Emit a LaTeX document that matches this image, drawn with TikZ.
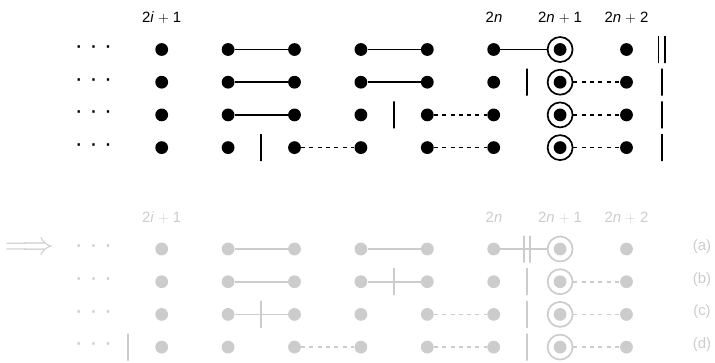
\documentclass[tikz,border=0pt]{standalone}
\usepackage{fontspec}
\setmainfont{Liberation Sans}
\usetikzlibrary{arrows.meta}
\definecolor{FadeGray}{RGB}{204,204,204}
\newcommand{\plusgap}{\hspace{4bp}$+$\hspace{4bp}}

\begin{document}
\begin{tikzpicture}[
      x=1bp, y=-1bp,
      font=\fontsize{15}{17}\selectfont,
      dot/.style={circle, fill, inner sep=0pt, minimum size=12.8bp},
      ring/.style={circle, draw, line width=1.7bp, inner sep=0pt, minimum size=25bp,
                   path picture={\fill (path picture bounding box.center) circle (6.4bp);}},
      ellip/.style={inner sep=0pt, font=\fontsize{24}{24}\selectfont},
      pair/.style={line width=1.6bp},
      free/.style={line width=1.6bp, dash pattern=on 4bp off 4.3bp},
      cutbar/.style={draw, line width=1.8bp, inner sep=0pt, minimum width=0pt, minimum height=27bp},
    ]
      \useasboundingbox (0,0) rectangle (715,362);

      % upper panel
      \node (tl1) at (161.7,17.5) {2\textit{i}\plusgap 1};
      \node (tl6) at (494,17.5) {2\textit{n}};
      \node (tl7) at (560.1,17.5) {2\textit{n}\plusgap 1};
      \node (tl8) at (626.5,17.5) {2\textit{n}\plusgap 2};
      \foreach \r in {1,...,4} {
        \node[ellip] (t\r0) at (93.5,{49.5+32.7*(\r-1)}) {·\hspace{6.6bp}·\hspace{6.6bp}·};
        \foreach \c in {1,...,6,8}
          \node[dot] (t\r\c) at ({161.7+66.4*(\c-1)},{49.5+32.7*(\r-1)}) {};
        \node[ring] (t\r7) at (560.1,{49.5+32.7*(\r-1)}) {};
      }
      \foreach \r in {2,3,4}
        \node[cutbar] (t\r9) at (662,{49.5+32.7*(\r-1)}) {};
      \node[cutbar] (t19a) at (658.5,49.5) {};
      \node[cutbar] (t19b) at (665,49.5) {};

      \draw[pair] (t12) -- (t13);
      \draw[pair] (t14) -- (t15);
      \draw[pair] (t16) -- (t17);
      \draw[pair] (t22) -- (t23);
      \draw[pair] (t24) -- (t25);
      \path (t26.center) -- node[cutbar] {} (t27.center);
      \draw[free] (t27) -- (t28);
      \draw[pair] (t32) -- (t33);
      \path (t34.center) -- node[cutbar] {} (t35.center);
      \draw[free] (t35) -- (t36);
      \draw[free] (t37) -- (t38);
      \path (t42.center) -- node[cutbar] {} (t43.center);
      \draw[free] (t43) -- (t44);
      \draw[free] (t45) -- (t46);
      \draw[free] (t47) -- (t48);

      % lower panel
      \begin{scope}[color=FadeGray]
        \node[inner sep=0pt, font=\fontsize{24.88}{26}\selectfont] (imp) at (29.5,249)
          {\scalebox{1.28}{$\Longrightarrow$}};

        \node (bl1) at (161.7,217.5) {2\textit{i}\plusgap 1};
        \node (bl6) at (494,217.5) {2\textit{n}};
        \node (bl7) at (560.1,217.5) {2\textit{n}\plusgap 1};
        \node (bl8) at (626.5,217.5) {2\textit{n}\plusgap 2};
        \foreach \r/\tag in {1/a,2/b,3/c,4/d} {
          \node[ellip] (b\r0) at (93.5,{249+32.7*(\r-1)}) {·\hspace{6.6bp}·\hspace{6.6bp}·};
          \foreach \c in {1,...,6,8}
            \node[dot] (b\r\c) at ({161.7+66.4*(\c-1)},{249+32.7*(\r-1)}) {};
          \node[ring] (b\r7) at (560.1,{249+32.7*(\r-1)}) {};
          \node (b\r9) at (702,{246.5+32.7*(\r-1)}) {(\tag)};
        }

        \draw[pair] (b12) -- (b13);
        \draw[pair] (b14) -- (b15);
        \draw[pair] (b16) -- (b17);
        \path (b16.center) -- node[cutbar, xshift=-3.3bp] {} node[cutbar, xshift=3.3bp] {} (b17.center);
        \draw[pair] (b22) -- (b23);
        \draw[pair] (b24) -- node[cutbar] {} (b25);
        \path (b26.center) -- node[cutbar] {} (b27.center);
        \draw[free] (b27) -- (b28);
        \draw[pair] (b32) -- node[cutbar] {} (b33);
        \draw[free] (b35) -- (b36);
        \path (b36.center) -- node[cutbar] {} (b37.center);
        \draw[free] (b37) -- (b38);
        \path (b40.center) -- node[cutbar] {} (b41.center);
        \draw[free] (b43) -- (b44);
        \draw[free] (b45) -- (b46);
        \path (b46.center) -- node[cutbar] {} (b47.center);
        \draw[free] (b47) -- (b48);
      \end{scope}
    \end{tikzpicture}
\end{document}
